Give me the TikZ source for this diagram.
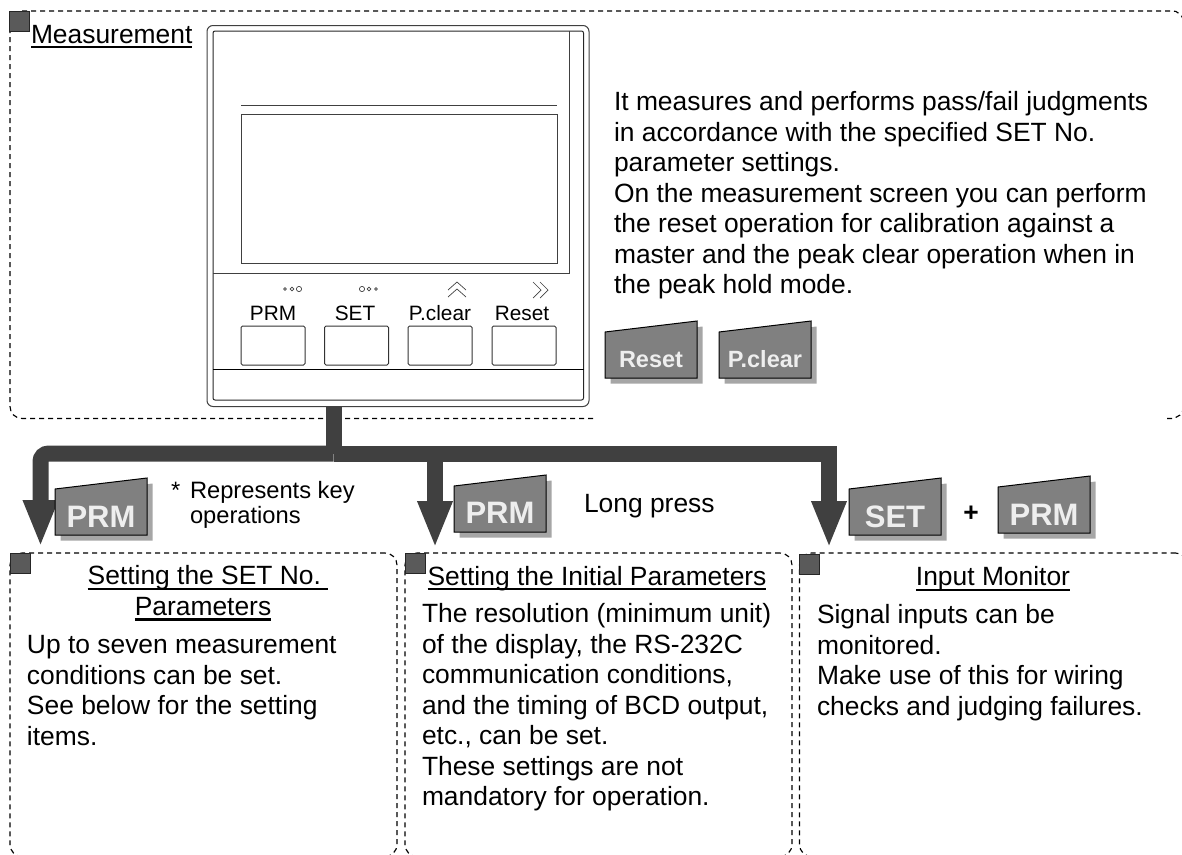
\documentclass[tikz,border=0pt]{standalone}
\usepackage{fontspec}
\setmainfont{Liberation Sans}
\usetikzlibrary{arrows.meta}
\newcommand{\fs}[1]{\fontsize{#1}{30.5}\selectfont}
\newcommand{\ult}[1]{\setbox0\hbox{#1}\rlap{\rule[-5.2pt]{\wd0}{2.2pt}}\box0}
\definecolor{darkline}{HTML}{404040}
\definecolor{squarefill}{HTML}{5A5A5A}
\definecolor{capfill}{HTML}{808080}
\definecolor{capshadow}{HTML}{A6A6A6}
\definecolor{captext}{HTML}{EEEEEE}
\tikzset{
  every node/.style={inner sep=0pt,outer sep=0pt},
  dashline/.style={black,line width=1.15pt,dash pattern=on 5pt off 4pt},
  panel/.style={draw=black,line width=1.15pt,dash pattern=on 5pt off 4pt,rounded corners=12pt,anchor=north west},
  marker/.style={draw=black!85,fill=squarefill,line width=0.9pt,anchor=north west,minimum width=20pt,minimum height=20pt},
  bodytext/.style={font=\fs{26.4},align=left,anchor=north west},
  titletext/.style={font=\fs{26.4},anchor=base},
  devline/.style={draw=black!75,line width=1pt},
  devkey/.style={draw=black!80,line width=1pt,rounded corners=1.5pt,anchor=north west,minimum width=64pt,minimum height=39pt},
  devlabel/.style={font=\fs{20.8},anchor=base},
  thin symbol/.style={draw=black!75,line width=0.7pt},
  busline/.style={draw=darkline,line width=16pt},
  bigarrow/.style={busline,-{Triangle[width=32pt,length=47pt,fill=darkline]}},
}
\newcommand{\keycap}[5]{%
  \fill[capshadow] (#1+5.5,#2-46+5.5) -- (#1+92+5.5,#2-57+5.5) -- (#1+92+5.5,#2+5.5) -- (#1+5.5,#2+5.5) -- cycle;
  \draw[black,line width=1pt,fill=capfill] (#1,#2-46) -- (#1+92,#2-57) -- (#1+92,#2) -- (#1,#2) -- cycle;
  \node[text=captext,font=\bfseries\fs{#4},anchor=base] (#5) at (#1+46,#2-#3+0) {#5};
}
\begin{document}
\begin{tikzpicture}[x=1pt,y=-1pt]
\useasboundingbox (0,0) rectangle (1182,854);
\clip (0,0) rectangle (1182,854);
% measurement frame
\draw[dashline]
  (593,418.5) -- (22,418.5) arc[start angle=90,end angle=180,radius=12pt,y radius=-12pt] -- (10,23);
\draw[dashline] (22,11) -- (1173,11) -- (1176,11.5) -- (1181,15) -- (1185,23);
\draw[dashline] (1167,418.5) -- (1174,418.5) -- (1180,415) -- (1185,407);
\node[marker] (m0) at (9,11) {};
\node[titletext,anchor=base west] (mtitle) at (31,43) {\ult{Measurement}};
% device
\node[devline,rounded corners=6pt,anchor=north west,minimum width=382pt,minimum height=381pt] (dev) at (207,25.5) {};
\node[devline,draw=black!85,rounded corners=2pt,anchor=north west,minimum width=370.5pt,minimum height=369pt] (devin) at (213,31) {};
\node[devline,anchor=north west,minimum width=316pt,minimum height=149pt] (disp) at (241,114) {};
\draw[devline] (241,105) -- (557,105);
\draw[devline] (569,31) -- (569,273) -- (213,273);
\draw[devline,draw=black] (213,369.5) -- (583.5,369.5);
\node[devkey] (k1) at (241,326) {};
\node[devkey] (k2) at (324.5,326) {};
\node[devkey] (k3) at (408,326) {};
\node[devkey] (k4) at (492,326) {};
\node[devlabel] (l1) at (273,320) {PRM};
\node[devlabel] (l2) at (355,320) {SET};
\node[devlabel] (l3) at (440,320) {P.clear};
\node[devlabel] (l4) at (522,320) {Reset};
\draw[thin symbol] (285,289) circle[radius=1.3pt] (292,289) circle[radius=1.8pt] (299,289) circle[radius=2.6pt];
\draw[thin symbol] (362,289) circle[radius=2.6pt] (369,289) circle[radius=1.8pt] (376,289) circle[radius=1.3pt];
\draw[thin symbol] (448,290) -- (457,282) -- (466,290) (448,297) -- (457,289) -- (466,297);
\draw[thin symbol] (533,282) -- (541,290) -- (533,298) (540,282) -- (548,290) -- (540,298);
% description
\node[bodytext] (desc) at (614,89.6) {\strut It measures and performs pass/fail judgments\\in accordance with the specified SET No.\\parameter settings.\\On the measurement screen you can perform\\the reset operation for calibration against a\\master and the peak clear operation when in\\the peak hold mode.};
\keycap{605}{378}{11}{23.5}{Reset}
\keycap{719}{378}{11}{23.5}{P.clear}
% panels
\node[panel,minimum width=387pt,minimum height=303.5pt] (p1) at (10,553) {};
\node[panel,minimum width=387pt,minimum height=303.5pt] (p2) at (405,553) {};
\node[panel,minimum width=388pt,minimum height=303.5pt] (p3) at (799.5,553) {};
\node[marker] (m1) at (10,553) {};
\node[marker] (m2) at (405,553) {};
\node[marker] (m3) at (799,554) {};
% connectors
\coordinate (tipA) at (40.5,547);
\coordinate (tipB) at (435,548);
\coordinate (tipC) at (829,548);
\coordinate (j) at (333.5,453.5);
\draw[bigarrow,rounded corners=8pt] (j) -| (tipA);
\draw[bigarrow] (j) -| (tipC);
\draw[bigarrow] (j -| tipB) -- (tipB);
\draw[busline] (dev.south -| j) -- (j);
% keys
\keycap{55}{535}{8}{31}{PRM}
\node[font=\fs{23.7},anchor=base west] (star) at (171,498) {*};
\node[font=\fontsize{23.7}{25.5}\selectfont,align=left,anchor=north west] (rep) at (190,480.2) {\strut Represents key\\operations};
\keycap{454}{532}{9}{31}{PRM}
\node[font=\fs{26.4},anchor=base west] (long) at (584,512) {Long press};
\keycap{849}{535}{8}{31}{SET}
\node[font=\bfseries\fs{26.4},anchor=base] (plus) at (971,521) {+};
\keycap{998}{533}{8}{31}{PRM}
% panel text
\node[font=\fs{26.4},align=center,anchor=north] (t1) at (208,563.6) {\strut\ult{Setting the SET No.\ }\\\ult{Parameters}\hspace*{10pt}};
\node[bodytext] (b1) at (27,632.6) {\strut Up to seven measurement\\conditions can be set.\\See below for the setting\\items.};
\node[titletext,anchor=base west] (t2) at (427.5,585) {\ult{Setting the Initial Parameters}};
\node[bodytext] (b2) at (422,601.6) {\strut The resolution (minimum unit)\\of the display, the RS-232C\\communication conditions,\\and the timing of BCD output,\\etc., can be set.\\These settings are not\\mandatory for operation.};
\node[titletext] (t3) at (993,585.5) {\ult{Input Monitor}};
\node[bodytext] (b3) at (817,602.6) {\strut Signal inputs can be\\monitored.\\Make use of this for wiring\\checks and judging failures.};
\end{tikzpicture}
\end{document}
